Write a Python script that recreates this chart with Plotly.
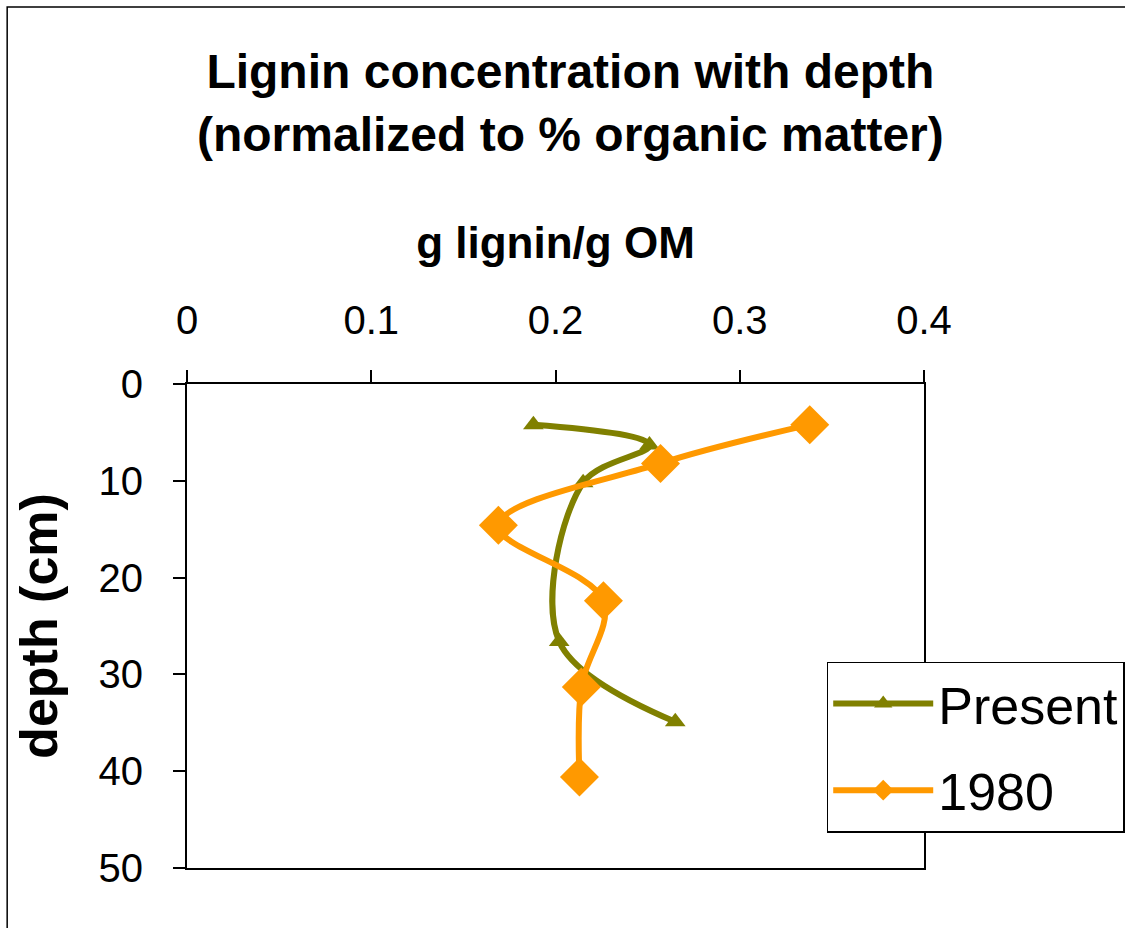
import plotly.graph_objects as go

# Data
present_lignin = [0.188, 0.251, 0.215, 0.202, 0.265]
present_depth = [4.2, 6.3, 10.2, 26.6, 34.9]

y1980_lignin = [0.338, 0.257, 0.169, 0.226, 0.214, 0.213]
y1980_depth = [4.2, 8.2, 14.6, 22.4, 31.3, 40.6]

x_ticks = [0, 0.1, 0.2, 0.3, 0.4]
x_tick_labels = ["0", "0.1", "0.2", "0.3", "0.4"]
y_ticks = [0, 10, 20, 30, 40, 50]
y_tick_labels = ["0", "10", "20", "30", "40", "50"]

FONT = "Arial, Liberation Sans, sans-serif"

fig = go.Figure()
fig.add_trace(go.Scatter(
    x=present_lignin, y=present_depth, name="Present", legendgroup="present",
    mode="lines+markers",
    line=dict(color="#808000", width=6, shape="spline", smoothing=1),
    marker=dict(symbol="triangle-up", size=18, color="#808000"),
))
fig.add_trace(go.Scatter(
    x=y1980_lignin, y=y1980_depth, name="1980", legendgroup="y1980",
    mode="lines+markers",
    line=dict(color="#FF9900", width=6, shape="spline", smoothing=1),
    marker=dict(symbol="diamond", size=30, color="#FF9900"),
))

fig.update_layout(
    width=1125, height=928,
    margin=dict(l=187, r=201, t=384, b=60, autoexpand=False),
    paper_bgcolor="white", plot_bgcolor="white",
    font=dict(family=FONT, color="black"),
    title=dict(
        text="<b>Lignin concentration with depth<br>(normalized to % organic matter)</b>",
        font=dict(size=48, family=FONT, color="black"),
        x=0.507, xanchor="center", xref="container",
        y=0.905, yanchor="top", yref="container",
    ),
    xaxis=dict(
        range=[0, 0.4], side="top",
        tickvals=x_ticks, ticktext=x_tick_labels,
        tickfont=dict(size=40), ticks="outside", ticklen=12, tickwidth=1.5,
        tickcolor="black", ticklabelstandoff=20,
        showline=True, linecolor="black", linewidth=2, mirror=True,
        showgrid=False, zeroline=False, automargin=False,
        title=dict(text="<b>g lignin/g OM</b>", font=dict(size=44), standoff=26),
    ),
    yaxis=dict(
        range=[50, 0],
        tickvals=y_ticks, ticktext=y_tick_labels,
        tickfont=dict(size=40), ticks="outside", ticklen=12, tickwidth=1.5,
        tickcolor="black", ticklabelstandoff=22,
        showline=True, linecolor="black", linewidth=2, mirror=True,
        showgrid=False, zeroline=False, automargin=False,
        title=dict(text="<b>depth (cm)</b>", font=dict(size=52), standoff=24),
    ),
    legend=dict(
        x=0.868, y=0.426, xanchor="left", yanchor="top",
        font=dict(size=52), bgcolor="white",
        bordercolor="black", borderwidth=1.5,
        itemwidth=100, entrywidth=420, entrywidthmode="pixels",
        tracegroupgap=16,
    ),
    showlegend=True,
)

fig.add_shape(type="rect", xref="paper", yref="paper",
              x0=-0.244, y0=-0.3, x1=1.6, y1=1.779,
              line=dict(color="black", width=1.5), layer="below")

fig.write_html("out.html")
